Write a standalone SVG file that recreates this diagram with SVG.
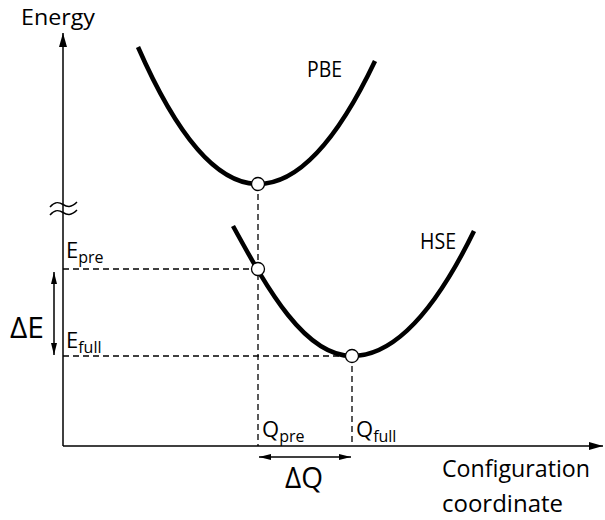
<svg xmlns="http://www.w3.org/2000/svg" width="605" height="520" viewBox="0 0 605 520">
<style>
text{font-family:"Open Sans","DejaVu Sans",sans-serif;fill:#000}
.lbl{font-size:22px}
.big{font-size:29px}
.sub{font-size:16px}
.curve{fill:none;stroke:#000;stroke-width:4.5;stroke-linecap:butt}
.axis{fill:none;stroke:#000;stroke-width:1.5}
.dash{fill:none;stroke:#000;stroke-width:1.3;stroke-dasharray:6 4}
.pt{fill:#fff;stroke:#000;stroke-width:1.3}
.dim{fill:none;stroke:#000;stroke-width:1.5}
</style>
<defs>
<marker id="ax" markerUnits="userSpaceOnUse" markerWidth="14" markerHeight="10" refX="14" refY="5" orient="auto"><path d="M0,1 L14,5 L0,9 z" fill="#000"/></marker>
<marker id="dm" markerUnits="userSpaceOnUse" markerWidth="12" markerHeight="8" refX="12" refY="4" orient="auto-start-reverse"><path d="M0,1 L12,4 L0,7 z" fill="#000"/></marker>
</defs>
<g id="connectors">
<line class="axis" x1="63" y1="446" x2="63" y2="33" marker-end="url(#ax)"/>
<line class="axis" x1="63" y1="446" x2="603" y2="446" marker-end="url(#ax)"/>
<path class="axis" d="M50,207 C55,201 59,202 63,204.5 S71,208 77,202"/>
<path class="axis" d="M50,215 C55,209 59,210 63,212.5 S71,216 77,210"/>
<line class="dash" x1="258" y1="184" x2="258" y2="446"/>
<line class="dash" x1="352" y1="356" x2="352" y2="446"/>
<line class="dash" x1="63" y1="269" x2="258" y2="269"/>
<line class="dash" x1="63" y1="356" x2="352" y2="356"/>
<line class="dim" x1="54" y1="272" x2="54" y2="355" marker-start="url(#dm)" marker-end="url(#dm)"/>
<line class="dim" x1="259" y1="457" x2="351" y2="457" marker-start="url(#dm)" marker-end="url(#dm)"/>
</g>
<g id="pbe">
<path class="curve" d="M138,47 Q198,184 258,184 Q316.5,184 375,61"/>
<text class="lbl" x="307" y="77" textLength="35" lengthAdjust="spacingAndGlyphs">PBE</text>
</g>
<g id="hse">
<path class="curve" d="M233,226 C268,290 305,356 352,356 Q413,356 474,231"/>
<text class="lbl" x="420" y="249" textLength="36" lengthAdjust="spacingAndGlyphs">HSE</text>
</g>
<g id="points">
<circle class="pt" cx="258" cy="184" r="6.5"/>
<circle class="pt" cx="258" cy="269" r="6.5"/>
<circle class="pt" cx="352" cy="356" r="6.5"/>
</g>
<g id="labels">
<text class="lbl" x="21" y="25" textLength="74" lengthAdjust="spacingAndGlyphs">Energy</text>
<text class="lbl" x="66" y="258">E<tspan class="sub" dy="5">pre</tspan></text>
<text class="lbl" x="66" y="348">E<tspan class="sub" dy="5">full</tspan></text>
<text class="lbl" x="262" y="437">Q<tspan class="sub" dy="5">pre</tspan></text>
<text class="lbl" x="356" y="437">Q<tspan class="sub" dy="5">full</tspan></text>
<text class="big" x="10" y="338" textLength="34" lengthAdjust="spacingAndGlyphs">ΔE</text>
<text class="big" x="285" y="488" textLength="38" lengthAdjust="spacingAndGlyphs">ΔQ</text>
<text class="lbl" x="442" y="477" style="font-size:24px" textLength="148" lengthAdjust="spacingAndGlyphs">Configuration</text>
<text class="lbl" x="442" y="512" style="font-size:24px" textLength="121" lengthAdjust="spacingAndGlyphs">coordinate</text>
</g>
</svg>
